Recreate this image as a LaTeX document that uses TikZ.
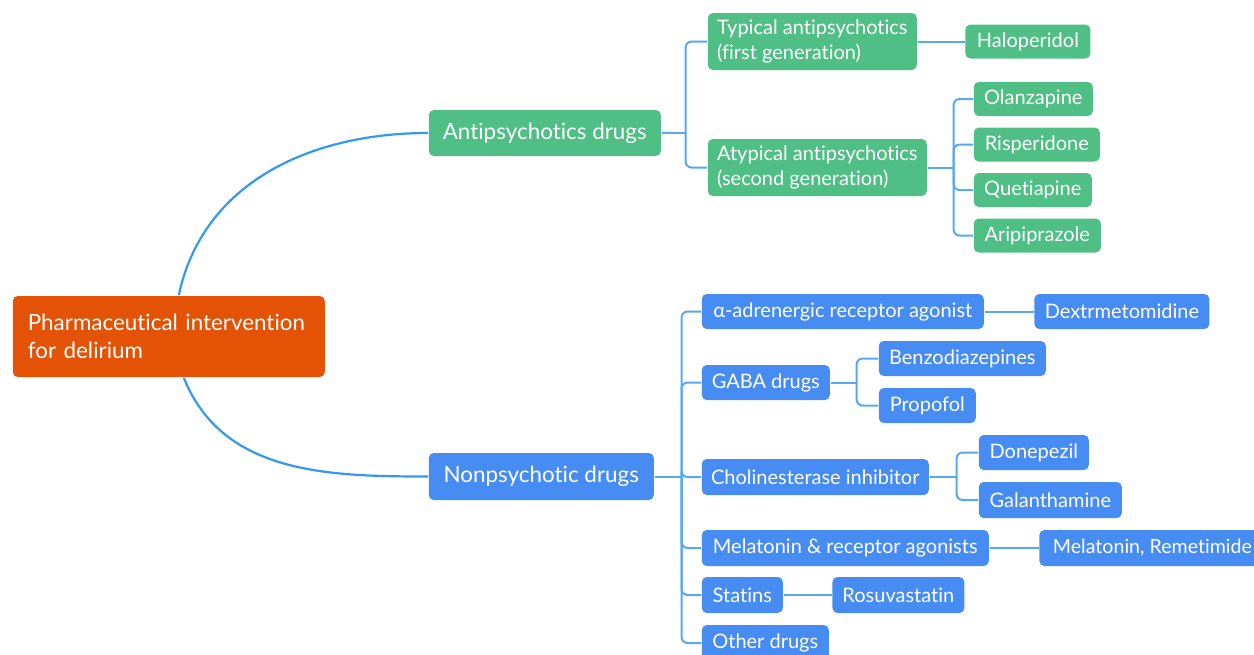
\documentclass[tikz,border=0pt]{standalone}
\usepackage{fontspec}
\setmainfont{Lato}[Ligatures=NoCommon]
\usepackage{xcolor}
\definecolor{co}{HTML}{E35205}
\definecolor{cg}{HTML}{4FBF86}
\definecolor{cb}{HTML}{468CF2}
\definecolor{cl}{HTML}{56A8F5}
\definecolor{cc}{HTML}{3399F0}
\usepackage{tikz}
\usetikzlibrary{positioning,calc}

\begin{document}
\begin{tikzpicture}[
  x=0.5pt, y=-0.5pt, thick,
  box/.style={rectangle, rounded corners=2.5pt, text=white, inner xsep=3pt, inner ysep=1pt, anchor=west, font=\fontsize{10}{12.5}\selectfont},
  rootbox/.style={box, fill=co, align=left, text width=141pt, inner xsep=7.5pt, font=\fontsize{11.2}{14}\selectfont},
  topg/.style={box, fill=cg, font=\fontsize{11.2}{13}\selectfont},
  topb/.style={box, fill=cb, font=\fontsize{11.2}{13}\selectfont},
  gbox/.style={box, fill=cg, align=left},
  bbox/.style={box, fill=cb},
  bus/.style={draw=cl, line width=1pt, rounded corners=3pt},
  link/.style={draw=cc, line width=1.1pt},
]
  \useasboundingbox (0,0) rectangle (1254,654);

  % root
  \node[rootbox, minimum height=40.5pt] (root) at (12,336.5)
    {Pharmaceutical intervention\\for delirium};

  % antipsychotic branch
  \node[topg, minimum width=116pt, minimum height=23pt] (anti) at (428,133) {Antipsychotics drugs};
  \node[gbox, minimum width=104.5pt, minimum height=28.5pt] (typ) at (707,41.5) {Typical antipsychotics\\(first generation)};
  \node[gbox, minimum width=109.5pt, minimum height=28.5pt] (atyp) at (707,167.5) {Atypical antipsychotics\\(second generation)};
  \node[gbox, minimum width=62.5pt, minimum height=17pt, right=23.5pt of typ] (halo) {Haloperidol};
  \node[gbox, minimum width=59.5pt, minimum height=17pt] (olan) at (973,99) {Olanzapine};
  \node[gbox, minimum width=63pt, minimum height=17pt] (risp) at (973,144.5) {Risperidone};
  \node[gbox, minimum width=59pt, minimum height=17pt] (quet) at (973,190) {Quetiapine};
  \node[gbox, minimum width=63.5pt, minimum height=17pt] (arip) at (973,235.5) {Aripiprazole};

  % nonpsychotic branch
  \node[topb, minimum width=112.5pt, minimum height=23.5pt] (nonp) at (428,476.5) {Nonpsychotic drugs};
  \node[bbox, minimum width=141pt, minimum height=17.5pt] (alpha) at (701,311.5) {α-adrenergic receptor agonist};
  \node[bbox, minimum width=87.5pt, minimum height=17.5pt, right=24.5pt of alpha] (dext) {Dextrmetomidine};
  \node[bbox, minimum width=64pt, minimum height=17.5pt] (gaba) at (701,382.5) {GABA drugs};
  \node[bbox, minimum width=83.5pt, minimum height=17.5pt] (benz) at (878,358.5) {Benzodiazepines};
  \node[bbox, minimum width=48.5pt, minimum height=17.5pt] (prop) at (878,405.5) {Propofol};
  \node[bbox, minimum width=113.5pt, minimum height=18pt] (chol) at (701,477) {Cholinesterase inhibitor};
  \node[bbox, minimum width=55pt, minimum height=17.5pt] (done) at (978,452.5) {Donepezil};
  \node[bbox, minimum width=71.5pt, minimum height=18pt] (gala) at (978,500) {Galanthamine};
  \node[bbox, minimum width=143.5pt, minimum height=18pt] (mela) at (701,548) {Melatonin \& receptor agonists};
  \node[bbox, minimum width=113pt, minimum height=18pt, inner xsep=2pt, font=\fontsize{9.8}{12}\selectfont, right=24.5pt of mela] (melr) {Melatonin, Remetimide};
  \node[bbox, minimum width=40.5pt, minimum height=18pt] (stat) at (701,595) {Statins};
  \node[bbox, minimum width=66pt, minimum height=18pt, right=24pt of stat] (rosu) {Rosuvastatin};
  \node[bbox, minimum width=63.5pt, minimum height=18pt] (othe) at (701,643) {Other drugs};

  % root links
  \draw[link] ([xshift=5pt]root.north) to[out=78, in=180] (anti.west);
  \draw[link] ([xshift=7.5pt]root.south) to[out=-68, in=180] (nonp.west);

  % forks
  \coordinate (antiB) at ($(anti.east)+(24,0)$);
  \coordinate (atypB) at ($(atyp.east)+(26,0)$);
  \coordinate (nonpB) at ($(nonp.east)+(27,0)$);
  \coordinate (gabaB) at ($(gaba.east)+(26,0)$);
  \coordinate (cholB) at ($(chol.east)+(27,0)$);

  \draw[bus] (anti.east) -- (antiB);
  \foreach \c in {typ,atyp} \draw[bus] (antiB) |- (\c.west);
  \draw[bus] (atyp.east) -- (atypB);
  \foreach \c in {olan,risp,quet,arip} \draw[bus] (atypB) |- (\c.west);
  \draw[bus] (typ.east) -- (halo.west);

  \draw[bus] (nonp.east) -- (nonpB);
  \foreach \c in {alpha,gaba,chol,mela,stat,othe} \draw[bus] (nonpB) |- (\c.west);
  \draw[bus] (gaba.east) -- (gabaB);
  \foreach \c in {benz,prop} \draw[bus] (gabaB) |- (\c.west);
  \draw[bus] (chol.east) -- (cholB);
  \foreach \c in {done,gala} \draw[bus] (cholB) |- (\c.west);
  \draw[bus] (alpha.east) -- (dext.west);
  \draw[bus] (mela.east) -- (melr.west);
  \draw[bus] (stat.east) -- (rosu.west);
\end{tikzpicture}
\end{document}
